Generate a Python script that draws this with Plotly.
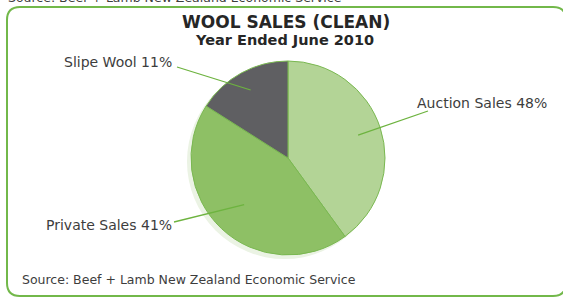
import math
import plotly.graph_objects as go

# ---- data ----
categories = ["Auction Sales", "Private Sales", "Slipe Wool"]
label_pcts = [48, 41, 11]           # percentages printed on the labels
slice_values = [40, 44, 16]         # slice sizes as drawn in the picture
colors = ["#b3d496", "#8ec065", "#5f5f62"]
title_text = "WOOL SALES (CLEAN)"
subtitle_text = "Year Ended June 2010"
source_text = "Source: Beef + Lamb New Zealand Economic Service"

W, H = 563, 298
FONT = "DejaVu Sans"
GREEN = "#72b84a"


def px(x):
    return x / W


def py(y):
    return 1 - y / H


cx, cy, r = 288, 158, 97

fig = go.Figure(
    go.Pie(
        values=slice_values,
        labels=categories,
        sort=False,
        direction="clockwise",
        rotation=0,
        marker=dict(colors=colors, line=dict(color="#7ab851", width=1)),
        textinfo="none",
        hoverinfo="label",
        showlegend=False,
        domain=dict(x=[px(cx - r), px(cx + r)], y=[py(cy + r), py(cy - r)]),
    )
)

shapes = []
# frame (rounded rectangle)
x0, y0, x1, y1, rr = 7, 7, 566, 296, 13
path = (
    f"M {px(x0 + rr)},{py(y0)} L {px(x1 - rr)},{py(y0)} "
    f"Q {px(x1)},{py(y0)} {px(x1)},{py(y0 + rr)} "
    f"L {px(x1)},{py(y1 - rr)} Q {px(x1)},{py(y1)} {px(x1 - rr)},{py(y1)} "
    f"L {px(x0 + rr)},{py(y1)} Q {px(x0)},{py(y1)} {px(x0)},{py(y1 - rr)} "
    f"L {px(x0)},{py(y0 + rr)} Q {px(x0)},{py(y0)} {px(x0 + rr)},{py(y0)} Z"
)
shapes.append(dict(type="path", path=path, xref="paper", yref="paper",
                   line=dict(color=GREEN, width=2), layer="below"))
# soft shadow behind the pie
sdx, sdy = -3, 3
shapes.append(dict(type="circle", xref="paper", yref="paper",
                   x0=px(cx - r + sdx - 1), x1=px(cx + r + sdx),
                   y0=py(cy + r + sdy + 1), y1=py(cy - r + sdy),
                   fillcolor="#ebf3e4", line=dict(width=0), layer="below"))

# labels and leader lines
label_pos = [(415, 103), (44, 225), (62, 62)]      # text left/center (px)
leader_end = [(428, 111), (174, 222), (177, 67)]   # outer end of leader (px)
leader_frac = [0.76, 0.66, 0.8]
total = sum(slice_values)
annotations = []
cum = 0
for i, cat in enumerate(categories):
    mid = (cum + slice_values[i] / 2) / total * 2 * math.pi
    cum += slice_values[i]
    ix = cx + leader_frac[i] * r * math.sin(mid)
    iy = cy - leader_frac[i] * r * math.cos(mid)
    ex, ey = leader_end[i]
    shapes.append(dict(type="line", xref="paper", yref="paper",
                       x0=px(ex), y0=py(ey), x1=px(ix), y1=py(iy),
                       line=dict(color="#6db33f", width=1.3)))
    lx, ly = label_pos[i]
    annotations.append(dict(text=f"{cat} {label_pcts[i]}%", x=px(lx), y=py(ly),
                            xref="paper", yref="paper", xanchor="left", yanchor="middle",
                            showarrow=False, font=dict(family=FONT, size=14, color="#3d3d3d")))

annotations += [
    dict(text=f"<b>{title_text}</b>", x=px(285.5), y=py(22), xref="paper", yref="paper",
         xanchor="center", yanchor="middle", showarrow=False,
         font=dict(family=FONT, size=17, color="#262626")),
    dict(text=f"<b>{subtitle_text}</b>", x=px(284), y=py(40), xref="paper", yref="paper",
         xanchor="center", yanchor="middle", showarrow=False,
         font=dict(family=FONT, size=14.5, color="#262626")),
    dict(text=source_text, x=px(20), y=py(279), xref="paper", yref="paper",
         xanchor="left", yanchor="middle", showarrow=False,
         font=dict(family=FONT, size=12.5, color="#3d3d3d")),
    dict(text=source_text, x=px(6), y=py(-3), xref="paper", yref="paper",
         xanchor="left", yanchor="middle", showarrow=False,
         font=dict(family=FONT, size=12.5, color="#3d3d3d")),
]

fig.update_layout(
    width=W, height=H,
    margin=dict(l=0, r=0, t=0, b=0),
    paper_bgcolor="white", plot_bgcolor="white",
    shapes=shapes, annotations=annotations,
)

fig.write_html(
    "out.html",
    config={"displayModeBar": False},
    post_script="document.body.style.margin='0';document.body.style.overflow='hidden';",
)
